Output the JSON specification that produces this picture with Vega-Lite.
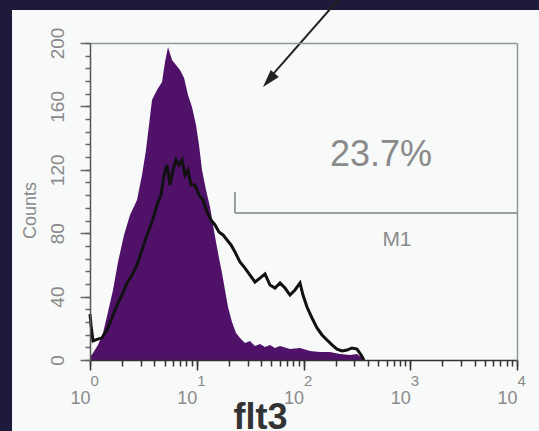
{
  "$schema": "https://vega.github.io/schema/vega-lite/v6.json",
  "width": 427,
  "height": 317,
  "autosize": {"type": "none"},
  "padding": {"left": 90, "top": 43, "right": 22, "bottom": 71},
  "background": "#1e1a3c",
  "config": {
    "view": {"stroke": null},
    "axis": {"zindex": 2, "grid": false, "labelFont": "Liberation Sans", "titleFont": "Liberation Sans", "labelFlush": false, "labelOverlap": false, "labelBound": false}
  },
  "datasets": {
    "iso": [
      {"fl":1.0,"count":1.9},{"fl":1.067,"count":4.4},{"fl":1.188,"count":9.5},{"fl":1.324,"count":17},{"fl":1.474,"count":30.3},{"fl":1.643,"count":44.2},{"fl":1.83,"count":61.8},{"fl":2.083,"count":78.9},{"fl":2.37,"count":91.5},{"fl":2.756,"count":101},{"fl":3.07,"count":116.7},{"fl":3.347,"count":132.5},{"fl":3.571,"count":148.3},{"fl":3.809,"count":164},{"fl":4.243,"count":170.4},{"fl":4.727,"count":175.4},{"fl":5.043,"count":188},{"fl":5.379,"count":197.5},{"fl":5.865,"count":189.3},{"fl":6.393,"count":186.1},{"fl":6.968,"count":183},{"fl":7.597,"count":178},{"fl":8.279,"count":167.2},{"fl":9.026,"count":159.6},{"fl":9.84,"count":148.3},{"fl":10.5,"count":135.7},{"fl":11.2,"count":119.9},{"fl":12.21,"count":107.3},{"fl":13.31,"count":96.5},{"fl":14.2,"count":85.2},{"fl":15.15,"count":74.5},{"fl":16.16,"count":64.4},{"fl":17.24,"count":54.9},{"fl":18.39,"count":44.2},{"fl":19.62,"count":33.4},{"fl":21.39,"count":24},{"fl":23.32,"count":17},{"fl":25.42,"count":13.9},{"fl":28.31,"count":10.7},{"fl":31.54,"count":12},{"fl":35.13,"count":8.8},{"fl":39.13,"count":10.1},{"fl":43.59,"count":8.2},{"fl":48.55,"count":9.5},{"fl":54.08,"count":7.6},{"fl":60.25,"count":8.8},{"fl":74.72,"count":6.9},{"fl":92.73,"count":7.6},{"fl":115.1,"count":5.7},{"fl":142.8,"count":5},{"fl":177.1,"count":5},{"fl":219.8,"count":3.8},{"fl":272.7,"count":3.2},{"fl":317.1,"count":3.8},{"fl":353.2,"count":1.3},{"fl":376.8,"count":0}
    ],
    "flt3": [
      {"fl":1.0,"count":29},{"fl":1.022,"count":22},{"fl":1.067,"count":12},{"fl":1.163,"count":13},{"fl":1.296,"count":14},{"fl":1.443,"count":19},{"fl":1.607,"count":26.5},{"fl":1.79,"count":34.7},{"fl":1.994,"count":41},{"fl":2.222,"count":48.6},{"fl":2.474,"count":53.6},{"fl":2.756,"count":60},{"fl":3.07,"count":69.4},{"fl":3.42,"count":78.9},{"fl":3.809,"count":87.1},{"fl":4.243,"count":97.8},{"fl":4.626,"count":104.1},{"fl":4.934,"count":116.7},{"fl":5.264,"count":123},{"fl":5.616,"count":110.4},{"fl":5.991,"count":119.9},{"fl":6.393,"count":126.2},{"fl":6.82,"count":123},{"fl":7.276,"count":126.2},{"fl":7.762,"count":116.7},{"fl":8.279,"count":119.9},{"fl":8.835,"count":110.4},{"fl":9.63,"count":110.4},{"fl":10.5,"count":104.1},{"fl":11.44,"count":101},{"fl":12.47,"count":93.4},{"fl":13.6,"count":88.3},{"fl":14.83,"count":85.2},{"fl":16.16,"count":80.8},{"fl":17.62,"count":78.9},{"fl":19.21,"count":75.7},{"fl":20.94,"count":72.6},{"fl":22.82,"count":68.1},{"fl":25.42,"count":61.8},{"fl":28.31,"count":58},{"fl":31.54,"count":53.6},{"fl":35.13,"count":49.2},{"fl":39.13,"count":51.7},{"fl":43.59,"count":54.3},{"fl":48.55,"count":47.3},{"fl":54.08,"count":45.4},{"fl":60.25,"count":48.6},{"fl":67.1,"count":45.4},{"fl":74.72,"count":41},{"fl":83.25,"count":44.2},{"fl":92.73,"count":48.6},{"fl":98.92,"count":41},{"fl":107.8,"count":33.4},{"fl":120.1,"count":26.5},{"fl":133.8,"count":20.2},{"fl":149.1,"count":15.8},{"fl":166,"count":12.6},{"fl":184.9,"count":9.5},{"fl":206,"count":6.9},{"fl":229.5,"count":5.7},{"fl":255.6,"count":6.3},{"fl":284.7,"count":7.6},{"fl":317.1,"count":6.9},{"fl":345.6,"count":3.2},{"fl":368.7,"count":0}
    ],
    "one": [{}]
  },
  "resolve": {"axis": {"x": "independent", "y": "independent"}},
  "layer": [
    {
      "data": {"name": "one"},
      "mark": {"type": "rect", "fill": "#f8f9f9"},
      "encoding": {
        "x": {"datum": 0.186, "type": "quantitative", "scale": {"type": "log", "domain": [1, 10000], "nice": false}, "axis": null},
        "x2": {"datum": 16070},
        "y": {"datum": 220.8, "type": "quantitative", "scale": {"domain": [0, 200], "nice": false}, "axis": null},
        "y2": {"datum": -44.8}
      }
    },
    {
      "data": {"name": "iso"},
      "mark": {"type": "area", "color": "#4f1268", "opacity": 1},
      "encoding": {
        "x": {"field": "fl", "type": "quantitative", "scale": {"type": "log", "domain": [1, 10000], "nice": false},
          "axis": {"zindex": 2, "orient": "bottom", "values": [1,2,3,4,5,6,7,8,9,10,20,30,40,50,60,70,80,90,100,200,300,400,500,600,700,800,900,1000,2000,3000,4000,5000,6000,7000,8000,9000,10000], "tickSize": 6, "tickColor": "#333", "tickWidth": 1.5, "labels": false, "domain": true, "domainColor": "#333", "domainWidth": 1.5, "title": null}},
        "y": {"field": "count", "type": "quantitative", "scale": {"domain": [0, 200], "nice": false},
          "axis": {"zindex": 2, "orient": "left", "values": [0,8,16,24,32,40,48,56,64,72,80,88,96,104,112,120,128,136,144,152,160,168,176,184,192,200], "tickSize": 5, "tickColor": "#666", "tickWidth": 1.5, "labels": false, "domain": true, "domainColor": "#555", "domainWidth": 1.5, "title": null}}
      }
    },
    {
      "data": {"name": "flt3"},
      "mark": {"type": "line", "color": "#111", "strokeWidth": 3},
      "encoding": {
        "x": {"field": "fl", "type": "quantitative", "scale": {"type": "log", "domain": [1, 10000], "nice": false},
          "axis": {"zindex": 2, "orient": "bottom", "values": [1,10,100,1000,10000], "tickSize": 10, "tickColor": "#333", "tickWidth": 1.5, "domain": false, "labelExpr": "'10'", "labelAlign": "right", "labelBaseline": "alphabetic", "labelPadding": 33, "labelFontSize": 18, "labelColor": "#8a8a8a",
            "title": "flt3", "titleX": 170, "titleY": 68, "titleAlign": "center", "titleBaseline": "alphabetic", "titleFontSize": 36, "titleFontWeight": "bold", "titleColor": "#333"}},
        "y": {"field": "count", "type": "quantitative", "scale": {"domain": [0, 200], "nice": false},
          "axis": {"zindex": 2, "orient": "left", "values": [0,40,80,120,160,200], "tickSize": 10, "tickColor": "#666", "tickWidth": 1.5, "domain": false, "labelAngle": 270, "labelAlign": "center", "labelBaseline": "alphabetic", "labelPadding": 17, "labelFontSize": 19, "labelColor": "#8a8a8a",
            "title": "Counts", "titleAngle": 270, "titleX": -60, "titleY": 167, "titleAlign": "center", "titleBaseline": "middle", "titleFontSize": 18, "titleFontWeight": "normal", "titleColor": "#8a8a8a"}}
      }
    },
    {
      "data": {"name": "one"},
      "mark": {"type": "rule", "color": "#7a8282", "strokeWidth": 1.5},
      "encoding": {
        "x": {"datum": 22.8, "type": "quantitative", "scale": {"type": "log", "domain": [1, 10000], "nice": false},
          "axis": {"zindex": 2, "orient": "bottom", "values": [1,10,100,1000,10000], "ticks": false, "tickSize": 0, "domain": false, "labelExpr": "format(log(datum.value)/LN10, '.0f')", "labelAlign": "left", "labelDx": 4, "labelBaseline": "alphabetic", "labelPadding": 25, "labelFontSize": 15, "labelColor": "#8a8a8a", "title": null}},
        "x2": {"datum": 10000},
        "y": {"datum": 92.7, "type": "quantitative", "scale": {"domain": [0, 200], "nice": false},
          "axis": {"zindex": 2, "orient": "right", "ticks": false, "labels": false, "domain": true, "domainColor": "#8c9a9a", "domainWidth": 1.5, "title": null}}
      }
    },
    {
      "data": {"name": "one"},
      "mark": {"type": "rule", "color": "#7a8282", "strokeWidth": 1.5},
      "encoding": {
        "x": {"datum": 22.8, "type": "quantitative", "scale": {"type": "log", "domain": [1, 10000], "nice": false},
          "axis": {"zindex": 2, "orient": "top", "ticks": false, "labels": false, "domain": true, "domainColor": "#8c9a9a", "domainWidth": 1.5, "title": null}},
        "y": {"datum": 92.7, "type": "quantitative", "scale": {"domain": [0, 200], "nice": false}, "axis": null},
        "y2": {"datum": 106}
      }
    },
    {
      "data": {"name": "one"},
      "mark": {"type": "text", "text": "23.7%", "font": "Liberation Sans", "fontSize": 36, "color": "#8a8a8a", "align": "center", "baseline": "middle"},
      "encoding": {
        "x": {"datum": 532, "type": "quantitative", "scale": {"type": "log", "domain": [1, 10000], "nice": false}, "axis": null},
        "y": {"datum": 129.4, "type": "quantitative", "scale": {"domain": [0, 200], "nice": false}, "axis": null}
      }
    },
    {
      "data": {"name": "one"},
      "mark": {"type": "text", "text": "M1", "font": "Liberation Sans", "fontSize": 21, "color": "#8a8a8a", "align": "center", "baseline": "middle"},
      "encoding": {
        "x": {"datum": 751, "type": "quantitative", "scale": {"type": "log", "domain": [1, 10000], "nice": false}, "axis": null},
        "y": {"datum": 75.7, "type": "quantitative", "scale": {"domain": [0, 200], "nice": false}, "axis": null}
      }
    },
    {
      "data": {"name": "one"},
      "mark": {"type": "rule", "color": "#222", "strokeWidth": 2},
      "encoding": {
        "x": {"datum": 210.5, "type": "quantitative", "scale": {"type": "log", "domain": [1, 10000], "nice": false}, "axis": null},
        "x2": {"datum": 46.5},
        "y": {"datum": 227.1, "type": "quantitative", "scale": {"domain": [0, 200], "nice": false}, "axis": null},
        "y2": {"datum": 176.7}
      }
    },
    {
      "data": {"name": "one"},
      "mark": {"type": "point", "shape": "M0,-1L0.6,1L-0.6,1Z", "size": 324, "filled": true, "color": "#222", "opacity": 1, "angle": 221},
      "encoding": {
        "x": {"datum": 47.4, "type": "quantitative", "scale": {"type": "log", "domain": [1, 10000], "nice": false}, "axis": null},
        "y": {"datum": 176.5, "type": "quantitative", "scale": {"domain": [0, 200], "nice": false}, "axis": null}
      }
    }
  ]
}
